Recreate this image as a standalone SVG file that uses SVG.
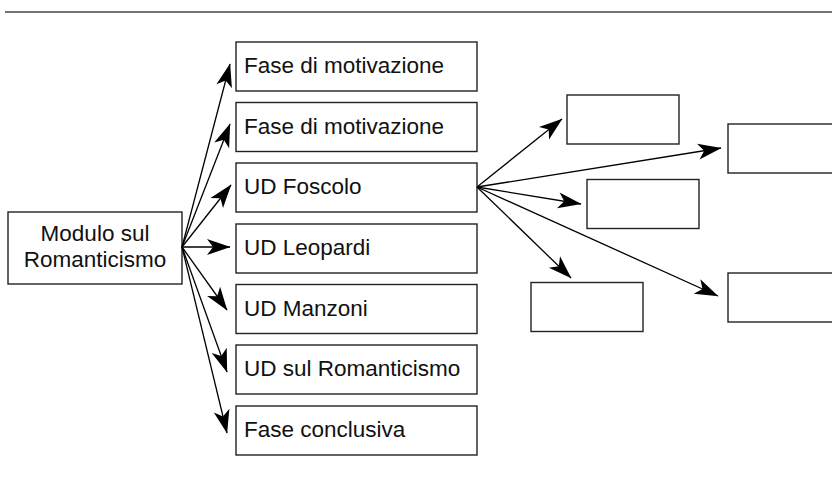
<svg xmlns="http://www.w3.org/2000/svg" width="832" height="479" viewBox="0 0 832 479">
<style>
.box{fill:#fff;stroke:#222;stroke-width:1.4}
.t{font-family:"Liberation Sans",Arial,sans-serif;font-size:22.5px;fill:#111}
.c{stroke:#000;stroke-width:1.3;fill:none;marker-end:url(#ah)}
</style>
<defs>
<marker id="ah" markerUnits="userSpaceOnUse" markerWidth="28" markerHeight="20" viewBox="-26 -10 28 20" refX="0" refY="0" orient="auto">
<path d="M0.5,0 L-23,-8 L-17,0 L-23,8 Z" fill="#000"/>
</marker>
</defs>
<line x1="5" y1="12" x2="832" y2="12" stroke="#444" stroke-width="1.6"/>
<g id="root"><rect class="box" x="8" y="212" width="174" height="72"/><text class="t" x="95" y="241" text-anchor="middle">Modulo sul</text><text class="t" x="95" y="267" text-anchor="middle">Romanticismo</text></g>
<g id="n1"><rect class="box" x="236" y="42" width="241" height="49"/><text class="t" x="244" y="73">Fase di motivazione</text></g>
<g id="n2"><rect class="box" x="236" y="102.5" width="241" height="49"/><text class="t" x="244" y="133.5">Fase di motivazione</text></g>
<g id="n3"><rect class="box" x="236" y="163" width="241" height="49"/><text class="t" x="244" y="194">UD Foscolo</text></g>
<g id="n4"><rect class="box" x="236" y="224" width="241" height="49"/><text class="t" x="244" y="255">UD Leopardi</text></g>
<g id="n5"><rect class="box" x="236" y="284.5" width="241" height="49"/><text class="t" x="244" y="315.5">UD Manzoni</text></g>
<g id="n6"><rect class="box" x="236" y="345" width="241" height="49"/><text class="t" x="244" y="376">UD sul Romanticismo</text></g>
<g id="n7"><rect class="box" x="236" y="406" width="241" height="49"/><text class="t" x="244" y="437">Fase conclusiva</text></g>
<g id="e1"><rect class="box" x="567" y="95" width="112" height="49"/></g>
<g id="e2"><rect class="box" x="728" y="124" width="110" height="49"/></g>
<g id="e3"><rect class="box" x="587" y="179.5" width="112" height="49"/></g>
<g id="e4"><rect class="box" x="531" y="282.5" width="112" height="49"/></g>
<g id="e5"><rect class="box" x="728" y="273" width="110" height="49"/></g>
<g id="connectors">
<line class="c" x1="182" y1="247" x2="230" y2="64"/>
<line class="c" x1="182" y1="247" x2="230" y2="124"/>
<line class="c" x1="182" y1="247" x2="231" y2="185"/>
<line class="c" x1="182" y1="247" x2="230" y2="247"/>
<line class="c" x1="182" y1="247" x2="227" y2="310"/>
<line class="c" x1="182" y1="247" x2="227" y2="372"/>
<line class="c" x1="182" y1="247" x2="227" y2="433"/>
<line class="c" x1="477" y1="187" x2="562" y2="119"/>
<line class="c" x1="477" y1="187" x2="721" y2="148"/>
<line class="c" x1="477" y1="187" x2="581" y2="204"/>
<line class="c" x1="477" y1="187" x2="571" y2="278"/>
<line class="c" x1="477" y1="187" x2="718" y2="296"/>
</g>
</svg>
